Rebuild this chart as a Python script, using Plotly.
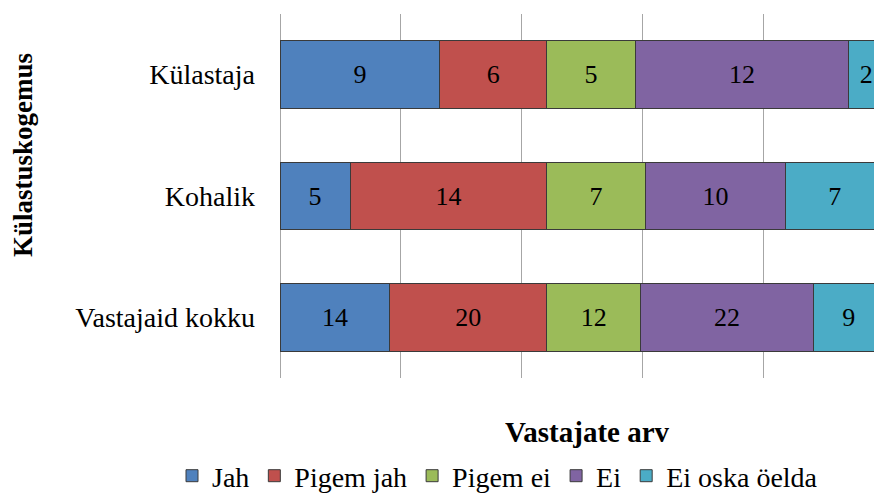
import plotly.graph_objects as go

categories = ["Külastaja", "Kohalik", "Vastajaid kokku"]
series_names = ["Jah", "Pigem jah", "Pigem ei", "Ei", "Ei oska öelda"]
jah = [9, 5, 14]
pigem_jah = [6, 14, 20]
pigem_ei = [5, 7, 12]
ei = [12, 10, 22]
ei_oska = [2, 7, 9]
colors = ["#4F81BD", "#C0504D", "#9BBB59", "#8064A2", "#4BACC6"]

FONT = "Liberation Serif"
series_values = [jah, pigem_jah, pigem_ei, ei, ei_oska]

fig = go.Figure()
for name, vals, col in zip(series_names, series_values, colors):
    fig.add_trace(go.Bar(
        y=categories, x=vals, name=name, orientation="h",
        marker=dict(color=col, line=dict(color="#3A3A3A", width=1)),
        text=[str(v) for v in vals], textposition="inside",
        insidetextanchor="middle", textangle=0,
        textfont=dict(family=FONT, size=26, color="black"),
        hoverinfo="skip",
    ))

W, H = 874, 495
L, R, T, B = 280, 0, 14, 117
pw, ph = W - L - R, H - T - B
full_w = 604  # pixel width of the 100% bar (it runs past the right edge)


def px_x(x):
    return (x - L) / pw


def px_y(y):
    return (H - B - y) / ph


fig.update_layout(
    width=W, height=H, barmode="stack", barnorm="percent", bargap=0.44,
    margin=dict(l=L, r=R, t=T, b=B, autoexpand=False),
    paper_bgcolor="white", plot_bgcolor="white",
    font=dict(family=FONT, size=27, color="black"),
    xaxis=dict(range=[0, 100 * pw / full_w], dtick=20, showgrid=True,
               gridcolor="#A6A6A6", gridwidth=1, zeroline=True,
               zerolinecolor="#A6A6A6", zerolinewidth=1,
               showticklabels=False, ticks="", showline=False,
               automargin=False),
    yaxis=dict(type="category", categoryorder="array",
               categoryarray=categories[::-1], ticks="",
               showgrid=False, zeroline=False, showline=False,
               tickfont=dict(family=FONT, size=28, color="black"),
               ticklabelstandoff=24, automargin=False),
    legend=dict(orientation="h", x=px_x(172), xanchor="left",
                y=px_y(476), yanchor="middle",
                font=dict(family=FONT, size=28, color="black"),
                traceorder="normal", itemwidth=30,
                bgcolor="rgba(0,0,0,0)"),
    showlegend=True,
)

fig.add_annotation(text="<b>Vastajate arv</b>", xref="paper", yref="paper",
                   x=px_x(587), y=px_y(432), showarrow=False,
                   xanchor="center", yanchor="middle",
                   font=dict(family=FONT, size=29, color="black"))
fig.add_annotation(text="<b>Külastuskogemus</b>", xref="paper", yref="paper",
                   x=px_x(23), y=px_y(155), showarrow=False,
                   textangle=-90, xanchor="center", yanchor="middle",
                   font=dict(family=FONT, size=27, color="black"))

fig.write_html(
    "out.html",
    config={"displayModeBar": False},
    post_script="document.body.style.margin='0';"
                "document.body.style.overflow='hidden';",
)
